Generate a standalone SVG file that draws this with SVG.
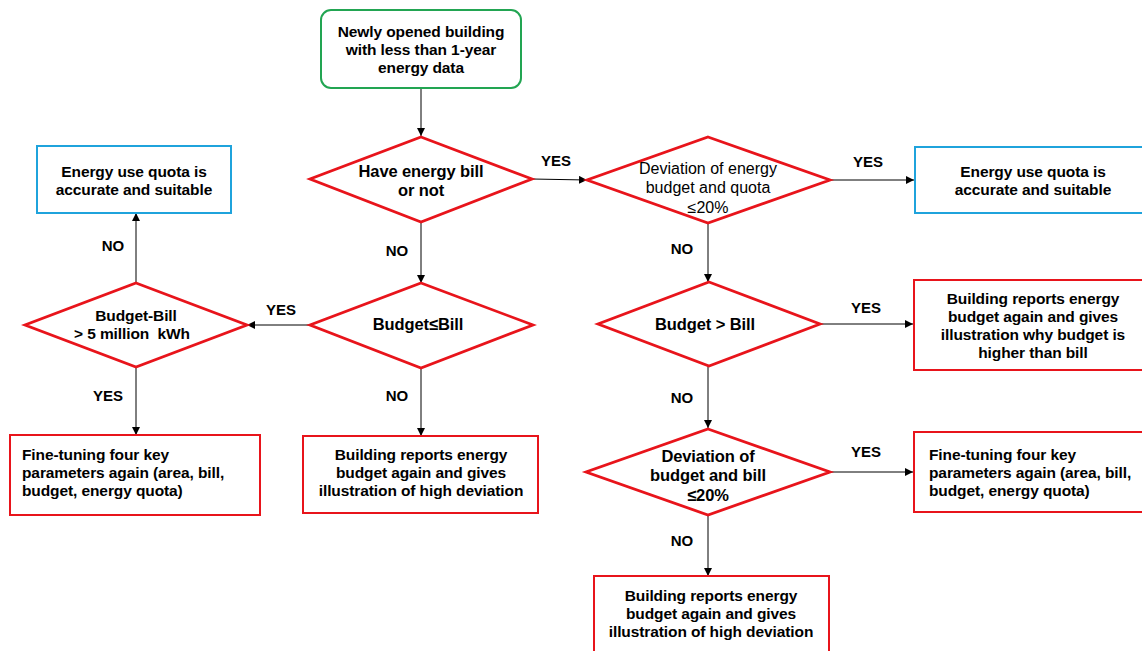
<svg xmlns="http://www.w3.org/2000/svg" width="1142" height="651" viewBox="0 0 1142 651">
<defs>
<marker id="ah" viewBox="0 0 10 10" refX="10" refY="5" markerWidth="8" markerHeight="8" markerUnits="userSpaceOnUse" orient="auto">
<path d="M0,0 L10,5 L0,10 z" fill="#000"/>
</marker>
<style>
.t{font-family:"Liberation Sans",Arial,sans-serif;font-size:15.5px;font-weight:bold;fill:#000;letter-spacing:-0.1px}
.d{font-size:16.5px}
.r{font-family:"Liberation Sans",Arial,sans-serif;font-size:16px;fill:#000}
.c{text-anchor:middle}
.lbl{font-family:"Liberation Sans",Arial,sans-serif;font-size:15px;font-weight:bold;fill:#000;text-anchor:middle}
.dia{fill:#fff;stroke:#e8141b;stroke-width:2.8}
.red{fill:#fff;stroke:#e8141b;stroke-width:2}
.blue{fill:#fff;stroke:#1fa3dc;stroke-width:2}
.green{fill:#fff;stroke:#22a552;stroke-width:2}
.con line{stroke:#000;stroke-width:1;marker-end:url(#ah)}
</style>
</defs>
<rect width="1142" height="651" fill="#fff"/>

<g id="connectors" class="con">
<line x1="421" y1="88" x2="421" y2="136"/>
<line x1="532" y1="179" x2="587" y2="180"/>
<line x1="830" y1="180" x2="914" y2="180"/>
<line x1="421" y1="222" x2="421" y2="283"/>
<line x1="310" y1="325" x2="247" y2="325"/>
<line x1="136" y1="283" x2="136" y2="213"/>
<line x1="136" y1="367" x2="136" y2="435"/>
<line x1="421" y1="368" x2="421" y2="436"/>
<line x1="708" y1="223" x2="708" y2="282"/>
<line x1="820" y1="324" x2="913" y2="324"/>
<line x1="708" y1="366" x2="708" y2="428"/>
<line x1="830" y1="472" x2="913" y2="472"/>
<line x1="708" y1="515" x2="708" y2="576"/>
</g>

<g id="labels">
<text class="lbl" x="556" y="166">YES</text>
<text class="lbl" x="868" y="167">YES</text>
<text class="lbl" x="397" y="256">NO</text>
<text class="lbl" x="113" y="251">NO</text>
<text class="lbl" x="281" y="315">YES</text>
<text class="lbl" x="108" y="401">YES</text>
<text class="lbl" x="397" y="401">NO</text>
<text class="lbl" x="682" y="254">NO</text>
<text class="lbl" x="866" y="313">YES</text>
<text class="lbl" x="682" y="403">NO</text>
<text class="lbl" x="866" y="457">YES</text>
<text class="lbl" x="682" y="546">NO</text>
</g>

<g id="start">
<rect class="green" x="321" y="10" width="200" height="78" rx="10"/>
<text class="t c" x="421" y="37">Newly opened building</text>
<text class="t c" x="421" y="55">with less than 1-year</text>
<text class="t c" x="421" y="73">energy data</text>
</g>

<g id="d-bill">
<polygon class="dia" points="421,137 532,179 421,222 310,179"/>
<text class="t d c" x="421" y="177">Have energy bill</text>
<text class="t d c" x="421" y="196">or not</text>
</g>

<g id="d-quota">
<polygon class="dia" points="708,137 830,180 708,223 587,180"/>
<text class="r c" x="708" y="174">Deviation of energy</text>
<text class="r c" x="708" y="193">budget and quota</text>
<text class="r c" x="708" y="213">≤20%</text>
</g>

<g id="box-quota-right">
<rect class="blue" x="915" y="147" width="228" height="66"/>
<text class="t c" x="1033" y="177">Energy use quota is</text>
<text class="t c" x="1033" y="195">accurate and suitable</text>
</g>

<g id="box-quota-left">
<rect class="blue" x="37" y="146" width="194" height="67"/>
<text class="t c" x="134" y="177">Energy use quota is</text>
<text class="t c" x="134" y="195">accurate and suitable</text>
</g>

<g id="d-budgetbill">
<polygon class="dia" points="136,283 247,325 136,367 25,325"/>
<text class="t c" x="136" y="321">Budget-Bill</text>
<text class="t c" x="132" y="339">&gt; 5 million &#160;kWh</text>
</g>

<g id="d-budgetle">
<polygon class="dia" points="421,283 533,325 421,368 310,325"/>
<text class="t d c" x="418" y="330">Budget≤Bill</text>
</g>

<g id="box-finetune-left">
<rect class="red" x="10" y="435" width="250" height="80"/>
<text class="t" x="22" y="460">Fine-tuning four key</text>
<text class="t" x="22" y="478">parameters again (area, bill,</text>
<text class="t" x="22" y="496">budget, energy quota)</text>
</g>

<g id="box-report-mid">
<rect class="red" x="303" y="436" width="235" height="77"/>
<text class="t c" x="421" y="460">Building reports energy</text>
<text class="t c" x="421" y="478">budget again and gives</text>
<text class="t c" x="421" y="496">illustration of high deviation</text>
</g>

<g id="d-budgetgt">
<polygon class="dia" points="709,282 820,324 709,366 598,324"/>
<text class="t d c" x="705" y="330">Budget &gt; Bill</text>
</g>

<g id="box-report-higher">
<rect class="red" x="914" y="280" width="229" height="90"/>
<text class="t c" x="1033" y="304">Building reports energy</text>
<text class="t c" x="1033" y="322">budget again and gives</text>
<text class="t c" x="1033" y="340">illustration why budget is</text>
<text class="t c" x="1033" y="358">higher than bill</text>
</g>

<g id="d-devbill">
<polygon class="dia" points="708,429 830,472 708,515 586,472"/>
<text class="t d c" x="708" y="462">Deviation of</text>
<text class="t d c" x="708" y="481">budget and bill</text>
<text class="t d c" x="708" y="501">≤20%</text>
</g>

<g id="box-finetune-right">
<rect class="red" x="914" y="432" width="229" height="80"/>
<text class="t" x="929" y="460">Fine-tuning four key</text>
<text class="t" x="929" y="478">parameters again (area, bill,</text>
<text class="t" x="929" y="496">budget, energy quota)</text>
</g>

<g id="box-report-bottom">
<rect class="red" x="594" y="576" width="235" height="80"/>
<text class="t c" x="711" y="601">Building reports energy</text>
<text class="t c" x="711" y="619">budget again and gives</text>
<text class="t c" x="711" y="637">illustration of high deviation</text>
</g>
</svg>
